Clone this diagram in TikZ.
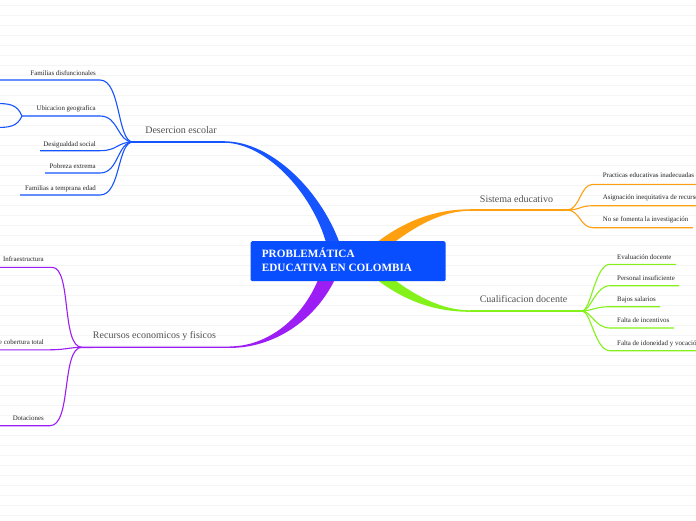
\documentclass[tikz,border=0pt]{standalone}
\usepackage{fontspec}
\setmainfont{Liberation Serif}
\definecolor{cblue}{RGB}{22,84,255}
\definecolor{cbox}{RGB}{8,78,255}
\definecolor{corange}{RGB}{255,160,16}
\definecolor{cgreen}{RGB}{132,242,26}
\definecolor{cpurple}{RGB}{156,30,245}
\definecolor{bgl}{RGB}{245,245,245}
\begin{document}
\begin{tikzpicture}[x=1pt,y=-1pt,
  bgline/.style={draw=bgl,line width=0.9pt},
  subtxt/.style={font=\fontsize{6.9}{7.5}\selectfont,text=black!85,inner sep=0pt},
  brtxt/.style={font=\fontsize{10}{12}\selectfont,text=black!68,inner sep=0pt},
  roottxt/.style={font=\fontsize{11.2}{14}\selectfont\bfseries,text=white,inner sep=0pt},
  subln/.style={line width=1.1pt},
  brln/.style={line width=1.4pt},
  rootbox/.style={fill=cbox,rounded corners=1.5pt,minimum width=195pt,minimum height=40pt,inner sep=0pt}]
\useasboundingbox (0,0) rectangle (696,520);
\fill[white] (0,0) rectangle (696,520);
\foreach \k in {0,...,51} \draw[bgline] (0,5.5+10*\k) -- (696,5.5+10*\k);

% ---------- thick main branches ----------
\fill[cblue] (224,141.3) .. controls (272,141) and (324,193) .. (342,250) -- (328,250) .. controls (316,197) and (268,143) .. (224,142.7) -- cycle;
\fill[corange] (371,247) .. controls (405,219) and (438,209.3) .. (470,209.3) -- (470,210.8) .. controls (442,210.8) and (415,226) .. (388,247) -- cycle;
\fill[cgreen] (371,275) .. controls (405,303) and (438,311.8) .. (470,311.8) -- (470,310.3) .. controls (442,310.3) and (415,296) .. (388,275) -- cycle;
\fill[cpurple] (320,275) .. controls (304,318) and (268,346.3) .. (230,346.4) -- (230,347.9) .. controls (272,348) and (316,322) .. (337,275) -- cycle;

% ---------- root ----------
\node[rootbox] (root) at (348.2,261.2) {};
\node[roottxt,anchor=base west] (rootA) at (261.7,257.7) {PROBLEMÁTICA};
\node[roottxt,anchor=base west] (rootB) at (261.7,271.7) {EDUCATIVA EN COLOMBIA};

% ---------- Desercion escolar ----------
\coordinate (DJ) at (133,142);
\coordinate (DE) at (224.5,142);
\draw[cblue,brln] (DJ) -- (DE);
\node[brtxt,anchor=base] (des) at (181,133) {Desercion escolar};

\coordinate (d1s) at (-5,80);   \coordinate (d1e) at (100,80);
\coordinate (d2s) at (22,116);  \coordinate (d2e) at (100,116);
\coordinate (d3s) at (40,150.7);\coordinate (d3e) at (100,150.7);
\coordinate (d4s) at (45,173);  \coordinate (d4e) at (100,173);
\coordinate (d5s) at (20,195);  \coordinate (d5e) at (100,195);
\coordinate (d2u) at (-5,103.5);\coordinate (d2d) at (-5,127.5);
\draw[cblue,subln] (d1s) -- (d1e) .. controls (121,80) and (117,142) .. (DJ);
\draw[cblue,subln] (d2s) -- (d2e) .. controls (119,116) and (117,142) .. (DJ);
\draw[cblue,subln] (d3s) -- (d3e) .. controls (118,150.7) and (117,142) .. (DJ);
\draw[cblue,subln] (d4s) -- (d4e) .. controls (119,173) and (117,142) .. (DJ);
\draw[cblue,subln] (d5s) -- (d5e) .. controls (121,195) and (117,142) .. (DJ);
\draw[cblue,subln] (d2s) .. controls (17,104) and (9,103.5) .. (d2u);
\draw[cblue,subln] (d2s) .. controls (17,127) and (9,127.5) .. (d2d);
\node[subtxt,anchor=base east] (d1) at (96,75) {Familias disfuncionales};
\node[subtxt,anchor=base east] (d2) at (96,110.5) {Ubicacion geografica};
\node[subtxt,anchor=base east] (d3) at (96,146) {Desigualdad social};
\node[subtxt,anchor=base east] (d4) at (96,168) {Pobreza extrema};
\node[subtxt,anchor=base east] (d5) at (96,190) {Familias a temprana edad};

% ---------- Sistema educativo ----------
\coordinate (OJ) at (567,210);
\coordinate (OE) at (469.5,210);
\draw[corange,brln] (OE) -- (OJ);
\node[brtxt,anchor=base] (sis) at (516.5,202) {Sistema educativo};
\coordinate (o1s) at (593,184.3); \coordinate (o1e) at (700,184.3);
\coordinate (o2s) at (593,205.7); \coordinate (o2e) at (700,205.7);
\coordinate (o3s) at (593,227.7); \coordinate (o3e) at (693,227.7);
\draw[corange,subln] (OJ) .. controls (580,210) and (580,184.3) .. (o1s) -- (o1e);
\draw[corange,subln] (OJ) .. controls (580,210) and (580,205.7) .. (o2s) -- (o2e);
\draw[corange,subln] (OJ) .. controls (580,210) and (580,227.7) .. (o3s) -- (o3e);
\node[subtxt,anchor=base west] (o1) at (602.7,177.5) {Practicas educativas inadecuadas};
\node[subtxt,anchor=base west] (o2) at (602.7,199) {Asignación inequitativa de recursos};
\node[subtxt,anchor=base west] (o3) at (602.7,221) {No se fomenta la investigación};

% ---------- Cualificacion docente ----------
\coordinate (GJ) at (582,311);
\coordinate (GE) at (469.5,311);
\draw[cgreen,brln] (GE) -- (GJ);
\node[brtxt,anchor=base] (cua) at (523.5,302.7) {Cualificacion docente};
\coordinate (g1s) at (610,264.3); \coordinate (g1e) at (676,264.3);
\coordinate (g2s) at (610,285.7); \coordinate (g2e) at (679,285.7);
\coordinate (g3s) at (610,306.7); \coordinate (g3e) at (660,306.7);
\coordinate (g4s) at (610,328);   \coordinate (g4e) at (674,328);
\coordinate (g5s) at (610,350.7); \coordinate (g5e) at (700,350.7);
\draw[cgreen,subln] (GJ) .. controls (591,311) and (595,264.3) .. (g1s) -- (g1e);
\draw[cgreen,subln] (GJ) .. controls (591,311) and (595,285.7) .. (g2s) -- (g2e);
\draw[cgreen,subln] (GJ) .. controls (591,311) and (595,306.7) .. (g3s) -- (g3e);
\draw[cgreen,subln] (GJ) .. controls (591,311) and (595,328) .. (g4s) -- (g4e);
\draw[cgreen,subln] (GJ) .. controls (591,311) and (595,350.7) .. (g5s) -- (g5e);
\node[subtxt,anchor=base west] (g1) at (617,259) {Evaluación docente};
\node[subtxt,anchor=base west] (g2) at (617,280.3) {Personal insuficiente};
\node[subtxt,anchor=base west] (g3) at (617,301.3) {Bajos salarios};
\node[subtxt,anchor=base west] (g4) at (617,322.6) {Falta de incentivos};
\node[subtxt,anchor=base west] (g5) at (617,345) {Falta de idoneidad y vocación};

% ---------- Recursos economicos y fisicos ----------
\coordinate (PJ) at (82,347.3);
\coordinate (PE) at (230.5,347.2);
\draw[cpurple,brln] (PJ) -- (PE);
\node[brtxt,anchor=base] (rec) at (154.5,338.3) {Recursos economicos y fisicos};
\coordinate (p1s) at (-5,267.3); \coordinate (p1e) at (52,267.3);
\coordinate (p2s) at (-5,349.8); \coordinate (p2e) at (50,349.8);
\coordinate (p3s) at (-5,425.7); \coordinate (p3e) at (50,425.7);
\draw[cpurple,subln] (p1s) -- (p1e) .. controls (72,267.3) and (61,347.3) .. (PJ);
\draw[cpurple,subln] (p2s) -- (p2e) .. controls (65,349.8) and (70,347.3) .. (PJ);
\draw[cpurple,subln] (p3s) -- (p3e) .. controls (72,425.7) and (61,347.3) .. (PJ);
\node[subtxt,anchor=base east] (p1) at (44,261.5) {Infraestructura};
\node[subtxt,anchor=base east] (p2) at (44,344.3) {Falta de cobertura total};
\node[subtxt,anchor=base east] (p3) at (44,420.3) {Dotaciones};
\end{tikzpicture}
\end{document}
